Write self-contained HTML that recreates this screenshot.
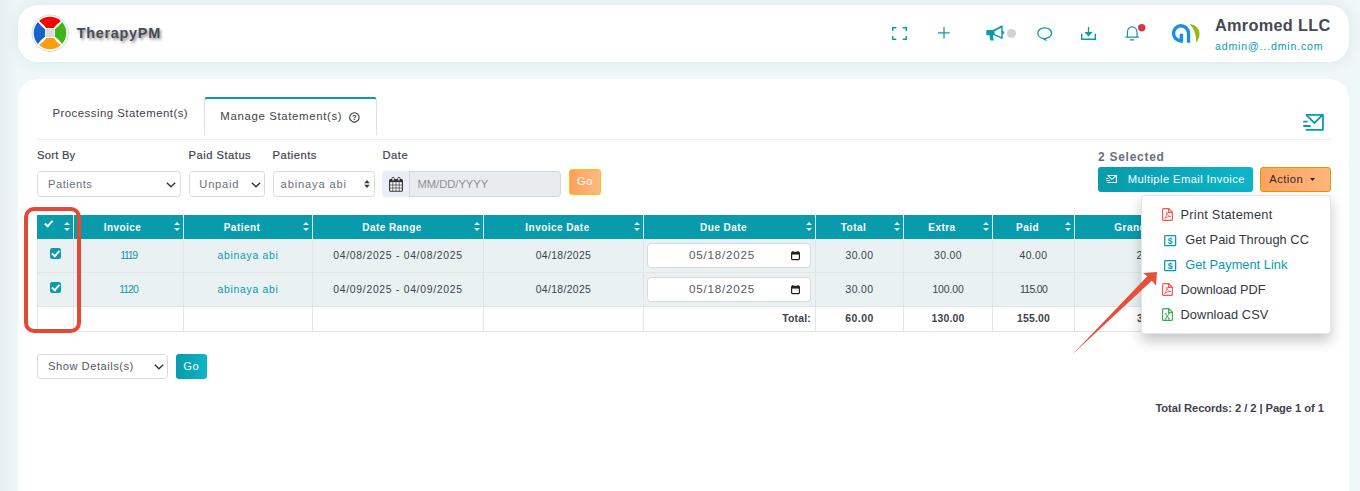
<!DOCTYPE html>
<html lang="en">
<head>
<meta charset="utf-8">
<title>TherapyPM - Manage Statement(s)</title>
<style>
*{box-sizing:border-box;margin:0;padding:0}
html,body{width:1360px;height:491px;overflow:hidden}
body{background:#eff7f8;font-family:"Liberation Sans",sans-serif;font-size:11.2px;color:#3f414d;position:relative;letter-spacing:.5px}
.abs{position:absolute}
.card{position:absolute;background:#fff;border-radius:20px;box-shadow:0 0 16px 0 rgba(48,96,118,.105)}
#topbar{left:18px;top:5px;width:1331px;height:57px}
#main{left:18px;top:79px;width:1331px;height:440px;box-shadow:none}
#edge{left:0;top:0;width:18px;height:491px;background:linear-gradient(to right,rgba(44,101,144,.055),rgba(44,101,144,0))}
.t{position:absolute;white-space:nowrap;line-height:1}
svg{position:absolute;overflow:visible}
/* header */
#brand{left:76.8px;letter-spacing:.72px;top:25.5px;font-size:14.4px;font-weight:bold;color:#474d57;text-shadow:1.6px 1.6px 3px rgba(0,0,0,.45)}
#uname{left:1215px;letter-spacing:.3px;top:17.2px;font-size:16.3px;font-weight:bold;color:#454955}
#umail{left:1215px;letter-spacing:.83px;top:41.3px;font-size:10.6px;color:#089bab}
/* tabs */
#tab1{left:52.4px;letter-spacing:.48px;top:107.5px;font-size:11.4px;color:#3f414d}
#tab2box{left:204px;top:97px;width:172.6px;height:37.6px;border:1px solid #dee2e6;border-top:2px solid #089bab;border-bottom:none;border-radius:3.2px 3.2px 0 0;background:#fff}
#tab2{left:220.3px;letter-spacing:.65px;top:110.8px;font-size:11.4px;color:#3f414d}
#tabline{left:37px;top:139px;width:1294px;height:1px;background:#eeedfb}
/* filter */
.lbl{font-size:11.2px;color:#3f414d;letter-spacing:.5px;-webkit-text-stroke:.18px #3f414d}
.sel{position:absolute;height:26px;top:171px;border:1px solid #d7dbda;border-radius:3.4px;background:#fff;color:#6c7078;font-size:11.2px;line-height:25.4px;padding-left:10px;white-space:nowrap}
.btn{position:absolute;border-radius:3px;color:#fff;font-size:11.2px;text-align:center;white-space:nowrap}
.teal{background:linear-gradient(to right,#089bab 0%,#0db5c8 100%)}
.orange{background:linear-gradient(to right,#fda05b 0%,#ffb983 100%);border:1px solid #ffc107}
/* table */
table{position:absolute;left:37px;top:215px;width:1294px;border-collapse:collapse;table-layout:fixed;font-size:10.4px;letter-spacing:.35px}
th{height:23.7px;background:#089bab;color:#fff;font-weight:bold;font-size:10px;text-align:center;padding:1px 17px 0 5px;border-left:1px solid #d9eef1;position:relative;letter-spacing:.45px}
th:first-child{border-left:1px solid #089bab}
td{text-align:center;border:1px solid #e1e5e8;border-top:none;color:#3f414d;padding:0}
tr.r td{height:33.9px;background:#e9f1f3}
tr.tot td{height:24.7px;background:#fff;font-weight:bold;font-size:10.4px;letter-spacing:.2px}
td.lnk{color:#089bab}
th i{position:absolute;right:1.2px;top:7.2px;width:7.4px;height:10px}
th i:before,th i:after{content:"";position:absolute;left:0;border-left:3.7px solid transparent;border-right:3.7px solid transparent}
th i:before{top:0;border-bottom:3.9px solid #eaf7f9}
th i:after{top:5.4px;border-top:3.9px solid #eaf7f9}
.cb{display:block;margin:0 auto;width:11.2px;height:11.2px;border-radius:2.2px;background:#089bab;position:relative}
.cb:after{content:"";position:absolute;left:3.5px;top:1.1px;width:3.4px;height:6.4px;border:solid #fff;border-width:0 2.1px 2.1px 0;transform:rotate(42deg)}
.cb.hc{width:10.2px;height:10.2px;background:#089bab;box-shadow:0 0 0 .6px #1ba5b4;top:-2.6px;left:-.4px}
.cb.hc:after{left:3.6px;top:-.6px}
tr.r .cb{top:-2.1px;left:-.3px}
.din{position:relative;left:-.6px;margin:0 auto;width:163.5px;height:25px;border:1px solid #d7dbda;border-radius:4px;background:#fff;color:#555a64;font-size:11.6px;line-height:22.6px;text-align:left;padding-left:40.8px;letter-spacing:.8px}
/* dropdown */
#dd{left:1141px;top:195px;width:190px;height:138.8px;background:#fff;border-radius:3.2px;border:1px solid rgba(0,0,0,.1);box-shadow:0 6.4px 13px rgba(0,0,0,.22)}
.di{position:absolute;font-size:12.8px;color:#34383e;white-space:nowrap;line-height:1;letter-spacing:.55px}
</style>
</head>
<body>

<div class="abs" id="edge"></div>
<!-- top navbar -->
<div class="card" id="topbar"></div>
<svg style="left:31.4px;top:14.4px" width="38" height="38" viewBox="-19 -19 38 38">
  <circle r="18.2" cx=".2" cy=".2" fill="#fff" stroke="#d2d2d2" stroke-width=".9"/>
  <path d="M-10.9 -12.1A16.3 16.3 0 0 1 10.9 -12.1Q6.2 -8.6 3.8 -4.9H-3.8Q-6.2 -8.6 -10.9 -12.1Z" fill="#ff0000"/>
  <path d="M-10.9 -12.1A16.3 16.3 0 0 1 10.9 -12.1Q6.2 -8.6 3.8 -4.9H-3.8Q-6.2 -8.6 -10.9 -12.1Z" fill="#3fb618" transform="rotate(90)"/>
  <path d="M-10.9 -12.1A16.3 16.3 0 0 1 10.9 -12.1Q6.2 -8.6 3.8 -4.9H-3.8Q-6.2 -8.6 -10.9 -12.1Z" fill="#ff9c0a" transform="rotate(180)"/>
  <path d="M-10.9 -12.1A16.3 16.3 0 0 1 10.9 -12.1Q6.2 -8.6 3.8 -4.9H-3.8Q-6.2 -8.6 -10.9 -12.1Z" fill="#1763c9" transform="rotate(270)"/>
  <rect x="-4" y="-4" width="8" height="8" fill="#dcdcdc"/>
</svg>
<div class="t" id="brand">TherapyPM</div>

<!-- header icons -->
<svg style="left:892px;top:27px" width="15" height="13" viewBox="0 0 15 13" fill="none" stroke="#089bab" stroke-width="1.4">
  <path d="M.7 4V.7H4.3M10.7 .7H14.3V4M14.3 9V12.3H10.7M4.3 12.3H.7V9"/>
</svg>
<svg style="left:937.5px;top:26.8px" width="12" height="12" viewBox="0 0 12 12" fill="none" stroke="#089bab" stroke-width="1.25">
  <path d="M6 0V11.6M0 5.8H11.6"/>
</svg>
<svg style="left:986px;top:24.5px" width="19" height="16" viewBox="0 0 19 16">
  <path d="M0.3 6.2 Q0.3 5 1.5 5 H7 L15.6 0.6 Q16.7 0.2 16.7 1.4 V5.9 Q18.3 6.3 18.3 7.6 Q18.3 8.9 16.7 9.3 V13 Q16.7 14.2 15.6 13.8 L8.2 10.3 H7.1 Q6.6 12.4 8 15.6 H4.6 Q3.4 12.6 3.6 10.3 H1.5 Q0.3 10.3 0.3 9.1 Z M8.6 6.3 V9 L15.3 12 V2.8 Z" fill="#089bab" fill-rule="evenodd"/>
</svg>
<svg style="left:1006.8px;top:28.6px" width="9" height="9"><circle cx="4.5" cy="4.5" r="4.5" fill="#d3d3d3"/></svg>
<svg style="left:1036.5px;top:26.8px" width="16" height="14" viewBox="0 0 16 14" fill="none" stroke="#089bab" stroke-width="1.3">
  <path d="M7.7 .8C3.8 .8 .8 3.2 .8 6.2 .8 9 3.4 11.2 6.5 11.5 7 12.2 7.6 12.7 8.6 12.9 8.2 12.4 8.1 11.9 8.2 11.5 11.8 11.3 14.6 9 14.6 6.2 14.6 3.2 11.6 .8 7.7 .8Z"/>
</svg>
<svg style="left:1080.8px;top:27px" width="15" height="13" viewBox="0 0 15 13">
  <path d="M.7 6.8V12.3H14.3V6.8" fill="none" stroke="#089bab" stroke-width="1.4"/>
  <path d="M7.5 0V6" fill="none" stroke="#089bab" stroke-width="1.3"/>
  <path d="M3.4 5H11.6L7.5 9.4Z" fill="#089bab"/>
</svg>
<svg style="left:1125px;top:26.1px" width="15" height="15" viewBox="0 0 15 15" fill="none" stroke="#089bab" stroke-width="1.2">
  <path d="M2.4 11V6.2C2.4 3 4.4 .8 7.2 .8S12 3 12 6.2V11M.4 11.1H14M4.9 13.8H9.3"/>
</svg>
<svg style="left:1138.2px;top:23.8px" width="8" height="8"><circle cx="3.7" cy="3.7" r="3.7" fill="#dc3545"/></svg>
<!-- company logo -->
<svg style="left:1165px;top:18px" width="40" height="30" viewBox="0 0 40 30">
  <path d="M23.5 24.75V15.3A7.5 7.5 0 1 0 16.3 22.8M16.4 24.75V15.8" fill="none" stroke="#1a8fe8" stroke-width="3.4"/>
  <path d="M24.4 6.1C30 6.5 34.6 10.5 34.5 15.8 34.4 19.5 33 22.5 31.3 24.75 31.2 19 30 11 24.4 6.1Z" fill="#a0b414"/>
</svg>
<div class="t" id="uname">Amromed LLC</div>
<div class="t" id="umail">admin@...dmin.com</div>

<!-- main card -->
<div class="card" id="main"></div>
<div class="t" id="tab1">Processing Statement(s)</div>
<div class="abs" id="tab2box"></div>
<div class="t" id="tab2">Manage Statement(s)</div>
<svg style="left:348.5px;top:111.6px" width="11" height="11" viewBox="0 0 11 11">
  <circle cx="5.4" cy="5.4" r="4.7" fill="none" stroke="#2d2f3a" stroke-width="1.05"/>
  <text x="5.4" y="8" font-size="7.6" font-weight="bold" text-anchor="middle" fill="#2d2f3a" font-family="Liberation Sans, sans-serif" letter-spacing="0">?</text>
</svg>
<div class="abs" id="tabline"></div>
<svg style="left:1303px;top:113.8px" width="21" height="17" viewBox="0 0 21 17" fill="none" stroke="#089bab" stroke-width="1.8">
  <path d="M2.8 .9H19.9V15.8H2.8M3.5 1.2 11.4 9 19.4 1.2M.2 7.6H4.6M.2 12H7.6"/>
</svg>

<!-- filters -->
<div class="t lbl" style="left:37px;top:150.3px;letter-spacing:.25px">Sort By</div>
<div class="t lbl" style="left:188.5px;top:150.3px">Paid Status</div>
<div class="t lbl" style="left:272.5px;top:150.3px">Patients</div>
<div class="t lbl" style="left:382.5px;top:150.3px">Date</div>

<div class="sel" style="left:37px;width:144px">Patients</div>
<svg style="left:165.5px;top:181.8px" width="10" height="6" viewBox="0 0 10 6" fill="none" stroke="#343a40" stroke-width="1.5"><path d="M.8 .8 5 4.8 9.2 .8"/></svg>
<div class="sel" style="left:188.5px;width:76px;letter-spacing:.75px;padding-left:9.8px">Unpaid</div>
<svg style="left:250.5px;top:181.8px" width="10" height="6" viewBox="0 0 10 6" fill="none" stroke="#343a40" stroke-width="1.5"><path d="M.8 .8 5 4.8 9.2 .8"/></svg>
<div class="sel" style="left:272.5px;width:102px;padding-left:7.1px;letter-spacing:.82px">abinaya abi</div>
<svg style="left:364.3px;top:180.4px" width="6" height="8" viewBox="0 0 6 8" fill="#343a40"><path d="M3 0 5.8 3.2H.2ZM3 8 .2 4.8H5.8Z"/></svg>

<div class="abs" style="left:382px;top:171px;width:28px;height:26px;background:#e9eef7;border-radius:4px 0 0 4px"></div>
<svg style="left:389px;top:176.8px" width="14" height="15" viewBox="0 0 14 15">
  <rect x=".6" y="2.6" width="12.8" height="11.6" rx="1" fill="#fff" stroke="#333" stroke-width="1.1"/>
  <rect x=".6" y="2.6" width="12.8" height="2.6" fill="#333"/>
  <path d="M.6 8H13.4M.6 11H13.4M3.8 5.2V14M7 5.2V14M10.2 5.2V14" stroke="#333" stroke-width=".7"/>
  <rect x="3" y=".3" width="2.2" height="3.6" rx="1" fill="#fff" stroke="#333" stroke-width=".9"/>
  <rect x="8.8" y=".3" width="2.2" height="3.6" rx="1" fill="#fff" stroke="#333" stroke-width=".9"/>
</svg>
<div class="sel" style="left:409.4px;width:151.6px;background:#e9ecef;border-color:#d3d8de;border-radius:0 4px 4px 0;color:#8a9099;padding-left:7px;letter-spacing:0">MM/DD/YYYY</div>
<div class="btn orange" style="left:569px;top:169px;width:32px;height:26px;line-height:22.4px">Go</div>

<div class="t" style="left:1098px;top:151.1px;font-size:12px;font-weight:bold;color:#6b6e80;letter-spacing:.73px">2 Selected</div>
<div class="btn teal" style="left:1098px;top:167.4px;width:155px;height:24.4px;line-height:24px;text-align:left;padding-left:29.7px;letter-spacing:.41px">Multiple Email Invoice</div>
<svg style="left:1105.7px;top:175.2px" width="11" height="8" viewBox="0 0 21 17" fill="none" stroke="#fff" stroke-width="2" preserveAspectRatio="none">
  <path d="M2.8 1H19.9V15.8H2.8M3.5 1.2 11.4 9 19.4 1.2M.2 7.6H4.6M.2 12H7.6"/>
</svg>
<div class="btn orange" style="left:1260.2px;top:167.4px;width:70.8px;height:24.4px;line-height:22px;color:#2b2d30;text-align:left;padding-left:8px;border-color:#d39e00;background:linear-gradient(to right,#fda35e 0%,#ffb57d 100%)">Action</div>
<svg style="left:1309.8px;top:178px" width="5" height="3" viewBox="0 0 5 3"><path d="M0 0H5L2.5 3Z" fill="#212529"/></svg>

<!-- table -->
<table>
<colgroup><col style="width:36px"><col style="width:110px"><col style="width:129px"><col style="width:171px"><col style="width:160px"><col style="width:172px"><col style="width:88px"><col style="width:89px"><col style="width:82px"><col style="width:152px"><col></colgroup>
<thead><tr>
<th style="padding:0 14.3px 0 0"><span class="cb hc"></span><i></i></th>
<th>Invoice<i></i></th><th>Patient<i></i></th><th>Date Range<i></i></th><th>Invoice Date<i></i></th><th>Due Date<i></i></th><th>Total<i></i></th><th>Extra<i></i></th><th>Paid<i></i></th><th>Grand Total<i></i></th><th>Action</th>
</tr></thead>
<tbody>
<tr class="r"><td><span class="cb"></span></td><td class="lnk" style="letter-spacing:-1.3px">1119</td><td class="lnk" style="letter-spacing:.71px">abinaya abi</td><td style="letter-spacing:.7px">04/08/2025 - 04/08/2025</td><td>04/18/2025</td><td><div class="din">05/18/2025<svg style="right:9.8px;top:6.9px" width="9" height="9.4" viewBox="0 0 9 10" preserveAspectRatio="none"><path d="M1.9 0V1.6M7.1 0V1.6" stroke="#222" stroke-width="1.1"/><rect x=".6" y="1.4" width="7.8" height="7.8" rx=".9" fill="none" stroke="#222" stroke-width="1.2"/><rect x=".6" y="1.4" width="7.8" height="2.4" fill="#222"/></svg></div></td><td>30.00</td><td>30.00</td><td>40.00</td><td>20.00</td><td></td></tr>
<tr class="r"><td><span class="cb"></span></td><td class="lnk" style="letter-spacing:-1px">1120</td><td class="lnk" style="letter-spacing:.71px">abinaya abi</td><td style="letter-spacing:.7px">04/09/2025 - 04/09/2025</td><td>04/18/2025</td><td><div class="din">05/18/2025<svg style="right:9.8px;top:6.9px" width="9" height="9.4" viewBox="0 0 9 10" preserveAspectRatio="none"><path d="M1.9 0V1.6M7.1 0V1.6" stroke="#222" stroke-width="1.1"/><rect x=".6" y="1.4" width="7.8" height="7.8" rx=".9" fill="none" stroke="#222" stroke-width="1.2"/><rect x=".6" y="1.4" width="7.8" height="2.4" fill="#222"/></svg></div></td><td>30.00</td><td style="letter-spacing:-.1px">100.00</td><td style="letter-spacing:-.65px">115.00</td><td style="padding-left:8px">15.00</td><td></td></tr>
<tr class="tot"><td></td><td></td><td></td><td></td><td></td><td style="text-align:right;padding-right:4px">Total:</td><td style="letter-spacing:.45px">60.00</td><td>130.00</td><td>155.00</td><td>35.00</td><td></td></tr>
</tbody>
</table>

<!-- bottom controls -->
<div class="sel" style="left:37px;top:354px;width:130.6px;height:25px;color:#555a64;line-height:22.6px">Show Details(s)</div>
<svg style="left:153.8px;top:364px" width="10" height="6" viewBox="0 0 10 6" fill="none" stroke="#343a40" stroke-width="1.5"><path d="M.8 .8 5 4.8 9.2 .8"/></svg>
<div class="btn teal" style="left:175.7px;top:354px;width:31.2px;height:25px;line-height:24px">Go</div>
<div class="t" style="left:1155.4px;top:402.8px;font-size:11.2px;font-weight:bold;color:#3f414d;letter-spacing:-.07px">Total Records: 2 / 2 | Page 1 of 1</div>

<!-- action dropdown -->
<div class="abs" id="dd"></div>
<div class="di" style="left:1180.5px;top:209px;letter-spacing:.25px">Print Statement</div>
<div class="di" style="left:1185.2px;top:234.3px;letter-spacing:.05px">Get Paid Through CC</div>
<div class="di" style="left:1185.2px;top:258.9px;color:#089bab;letter-spacing:.03px">Get Payment Link</div>
<div class="di" style="left:1180.5px;top:283.5px;letter-spacing:-.1px">Download PDF</div>
<div class="di" style="left:1180.5px;top:308.8px;letter-spacing:.1px">Download CSV</div>

<svg style="left:1162.3px;top:208px" width="11" height="13" viewBox="0 0 11 13" fill="none" stroke="#f0524f" stroke-width="1.1"><path d="M1.6 .6H6.8L10.4 4.2V11.4Q10.4 12.4 9.4 12.4H1.6Q.6 12.4 .6 11.4V1.6Q.6 .6 1.6 .6ZM6.6 .8V4.4H10.2"/><path d="M2.4 10.6C3.6 9.6 5 7 5.2 4.6 5.3 3.6 4.5 3.7 4.6 4.7 4.8 6.6 6.6 8.4 8.8 8.6 7 8.3 4.2 9 2.4 10.6Z" stroke-width=".8"/></svg>
<svg style="left:1163.6px;top:234.7px" width="12.5" height="11.6" viewBox="0 0 13 12"><rect x=".7" y=".7" width="11.4" height="10.2" rx=".6" fill="none" stroke="#089bab" stroke-width="1.3"/><text x="6.4" y="9.1" font-size="9.2" font-weight="bold" text-anchor="middle" fill="#089bab" font-family="Liberation Sans, sans-serif" letter-spacing="0">$</text></svg>
<svg style="left:1163.6px;top:259.6px" width="12.5" height="11.6" viewBox="0 0 13 12"><rect x=".7" y=".7" width="11.4" height="10.2" rx=".6" fill="none" stroke="#089bab" stroke-width="1.3"/><text x="6.4" y="9.1" font-size="9.2" font-weight="bold" text-anchor="middle" fill="#089bab" font-family="Liberation Sans, sans-serif" letter-spacing="0">$</text></svg>
<svg style="left:1162.3px;top:282.8px" width="11" height="13" viewBox="0 0 11 13" fill="none" stroke="#f0524f" stroke-width="1.1"><path d="M1.6 .6H6.8L10.4 4.2V11.4Q10.4 12.4 9.4 12.4H1.6Q.6 12.4 .6 11.4V1.6Q.6 .6 1.6 .6ZM6.6 .8V4.4H10.2"/><path d="M2.4 10.6C3.6 9.6 5 7 5.2 4.6 5.3 3.6 4.5 3.7 4.6 4.7 4.8 6.6 6.6 8.4 8.8 8.6 7 8.3 4.2 9 2.4 10.6Z" stroke-width=".8"/></svg>
<svg style="left:1162.3px;top:307.5px" width="11" height="13" viewBox="0 0 11 13" fill="none" stroke="#35a853" stroke-width="1.1"><path d="M1.6 .6H6.8L10.4 4.2V11.4Q10.4 12.4 9.4 12.4H1.6Q.6 12.4 .6 11.4V1.6Q.6 .6 1.6 .6ZM6.6 .8V4.4H10.2"/><path d="M3.4 5.6 7.2 11M7.2 5.6 3.4 11M2.6 11H4.6M6 11H8M2.8 5.6H4.4M6.2 5.6H7.8" stroke-width=".9"/></svg>
<!-- annotations -->
<div class="abs" style="left:24px;top:207px;width:57px;height:126px;border:4px solid #e24a36;border-radius:10px"></div>
<svg style="left:0;top:0" width="1360" height="491" viewBox="0 0 1360 491">
  <path d="M1072.3 354.6 L1147.3 276.3 L1143 273 L1157 272 L1156 285.5 L1151.8 280.8 Z" fill="#e5503a"/>
</svg>
</body>
</html>
